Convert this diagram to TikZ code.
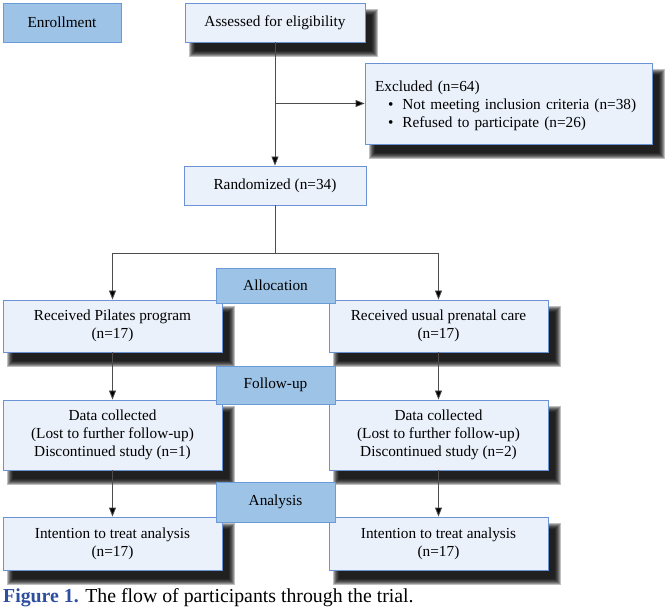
\documentclass[tikz,border=0pt]{standalone}
\usepackage{fontspec}
\setmainfont{Liberation Serif}
\usetikzlibrary{arrows.meta,calc}
\definecolor{boxfill}{HTML}{EBF1FB}
\definecolor{boxline}{HTML}{6A92D4}
\definecolor{labfill}{HTML}{9DC3E6}
\definecolor{labline}{HTML}{6A9BD8}
\definecolor{linegray}{HTML}{4D4D4D}
\definecolor{capblue}{HTML}{2E4F9E}
\pgfdeclarelayer{paper}
\pgfdeclarelayer{background}
\pgfsetlayers{paper,background,main}
\newcommand{\castshadow}[1]{%
  \foreach \k in {0,1,2,3,4,5,6}{%
    \fill[black,opacity=0.25] ([shift={(4+\k,6+\k)}]#1.north west) rectangle ([shift={(13-\k,15-\k)}]#1.south east);
  }%
}
\tikzset{
  x=1pt, y=-1pt,
  txt/.style={font=\fontsize{15.3}{18}\selectfont, align=center, inner sep=0pt},
  flowbox/.style={txt, fill=boxfill, draw=boxline, line width=0.8pt},
  labbox/.style={txt, fill=labfill, draw=labline, line width=0.8pt},
  conn/.style={draw=linegray, line width=0.8pt},
  arr/.style={conn, -{Triangle[length=9pt,width=7pt,fill=black]}},
}
\begin{document}
\begin{tikzpicture}
\useasboundingbox (0,0) rectangle (672,609);
\begin{pgfonlayer}{paper}
\fill[white] (0,0) rectangle (672,609);
\end{pgfonlayer}
% nodes
\node[labbox, minimum width=118pt, minimum height=39pt] (enroll) at (62,22.5) {Enrollment};
\node[flowbox, minimum width=180pt, minimum height=39pt] (assess) at (275,22.5) {Assessed for eligibility};
\node[flowbox, minimum width=287pt, minimum height=81pt, text width=267pt, align=left] (excl) at (508.5,103.5)
  {\rule{0pt}{16pt}Excluded (n=64)\\
   \hspace*{13pt}\textbullet\hspace{9pt}Not meeting inclusion criteria (n=38)\\
   \hspace*{13pt}\textbullet\hspace{9pt}Refused to participate (n=26)};
\node[flowbox, minimum width=182pt, minimum height=39pt] (rand) at (275,185.5) {Randomized (n=34)};

\node[flowbox, minimum width=219pt, minimum height=52pt] (L1) at (112.5,326) {Received Pilates program\\(n=17)};
\node[flowbox, minimum width=219pt, minimum height=52pt] (R1) at (438.5,326) {Received usual prenatal care\\(n=17)};
\node[flowbox, minimum width=219pt, minimum height=70pt] (L2) at (112.5,435) {Data collected\\(Lost to further follow-up)\\Discontinued study (n=1)};
\node[flowbox, minimum width=219pt, minimum height=70pt] (R2) at (438.5,435) {Data collected\\(Lost to further follow-up)\\Discontinued study (n=2)};
\node[flowbox, minimum width=219pt, minimum height=53pt] (L3) at (112.5,543.5) {Intention to treat analysis\\(n=17)};
\node[flowbox, minimum width=219pt, minimum height=53pt] (R3) at (438.5,543.5) {Intention to treat analysis\\(n=17)};

\node[labbox, minimum width=119pt, minimum height=35pt] (alloc) at (275.5,285.5) {Allocation};
\node[labbox, minimum width=119pt, minimum height=38pt] (follow) at (275.5,385) {Follow-up};
\node[labbox, minimum width=119pt, minimum height=40pt] (anal) at (275.5,502) {Analysis};

\node[anchor=west, inner sep=0pt, font=\fontsize{19.8}{22}\selectfont] (cap) at (3,598)
  {\textcolor{capblue}{\textbf{Figure 1.}} The flow of participants through the trial.};

% shadows
\begin{pgfonlayer}{background}
  \castshadow{assess}
  \castshadow{excl}
  \castshadow{L1}
  \castshadow{R1}
  \castshadow{L2}
  \castshadow{R2}
  \castshadow{L3}
  \castshadow{R3}
\end{pgfonlayer}

% connectors
\coordinate (branch) at (assess.south |- excl.west);
\coordinate (split) at (275,253);
\coordinate (splitL) at (L1.north |- split);
\coordinate (splitR) at (R1.north |- split);
\draw[arr] (assess.south) -- (rand.north);
\draw[arr] (branch) -- (excl.west);
\draw[conn] (rand.south) -- (split);
\draw[conn] (splitL) -- (splitR);
\draw[arr] (splitL) -- (L1.north);
\draw[arr] (splitR) -- (R1.north);
\draw[arr] (L1.south) -- (L2.north);
\draw[arr] (R1.south) -- (R2.north);
\draw[arr] (L2.south) -- (L3.north);
\draw[arr] (R2.south) -- (R3.north);
\end{tikzpicture}
\end{document}
